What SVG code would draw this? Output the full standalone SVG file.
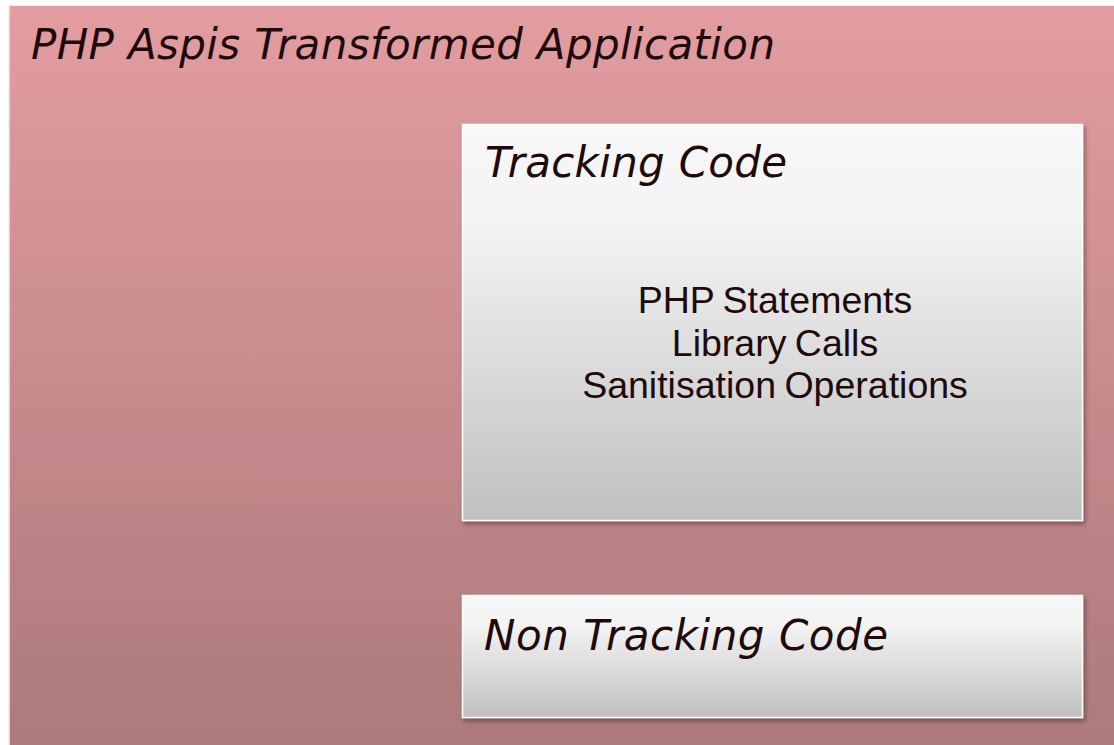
<svg xmlns="http://www.w3.org/2000/svg" width="1114" height="745" viewBox="0 0 1114 745">
<style>
.title{font-family:"DejaVu Sans",Verdana,sans-serif;font-style:italic;font-size:42px;fill:#1e0a0b}
.body{font-family:"Liberation Sans",Arial,sans-serif;font-size:37.5px;fill:#1e0a0b;text-anchor:middle;word-spacing:-2px}
.box{stroke:#ffffff;stroke-width:1.5;filter:url(#sh)}
</style>
<defs>
<linearGradient id="gOuter" x1="0" y1="0" x2="0" y2="1">
<stop offset="0" stop-color="#e39da1"/>
<stop offset="1" stop-color="#ac797b"/>
</linearGradient>
<linearGradient id="gBox" x1="0" y1="0" x2="0" y2="1">
<stop offset="0" stop-color="#f8f8f8"/>
<stop offset="0.25" stop-color="#f3f3f3"/>
<stop offset="1" stop-color="#c0c0c0"/>
</linearGradient>
<filter id="sh" x="-5%" y="-5%" width="110%" height="115%">
<feDropShadow dx="2" dy="3" stdDeviation="2" flood-color="#3a1c1d" flood-opacity="0.45"/>
</filter>
<filter id="sh0" x="-5%" y="-5%" width="110%" height="110%">
<feDropShadow dx="-1" dy="0" stdDeviation="1" flood-color="#000" flood-opacity="0.2"/>
</filter>
</defs>
<g id="app">
<rect x="10" y="6" width="1110" height="745" fill="url(#gOuter)" filter="url(#sh0)"/>
<text class="title" x="31" y="59" textLength="744" lengthAdjust="spacing">PHP Aspis Transformed Application</text>
</g>
<g id="tracking">
<rect class="box" x="462.5" y="124.5" width="620" height="396" fill="url(#gBox)"/>
<text class="title" x="485" y="177" textLength="302" lengthAdjust="spacing">Tracking Code</text>
<text class="body" x="775" y="313">PHP Statements</text>
<text class="body" x="775" y="356">Library Calls</text>
<text class="body" x="775" y="398">Sanitisation Operations</text>
</g>
<g id="nontracking">
<rect class="box" x="462.5" y="595.5" width="620" height="122" fill="url(#gBox)"/>
<text class="title" x="484" y="650" textLength="404" lengthAdjust="spacing">Non Tracking Code</text>
</g>
<g id="connectors"/>
</svg>
